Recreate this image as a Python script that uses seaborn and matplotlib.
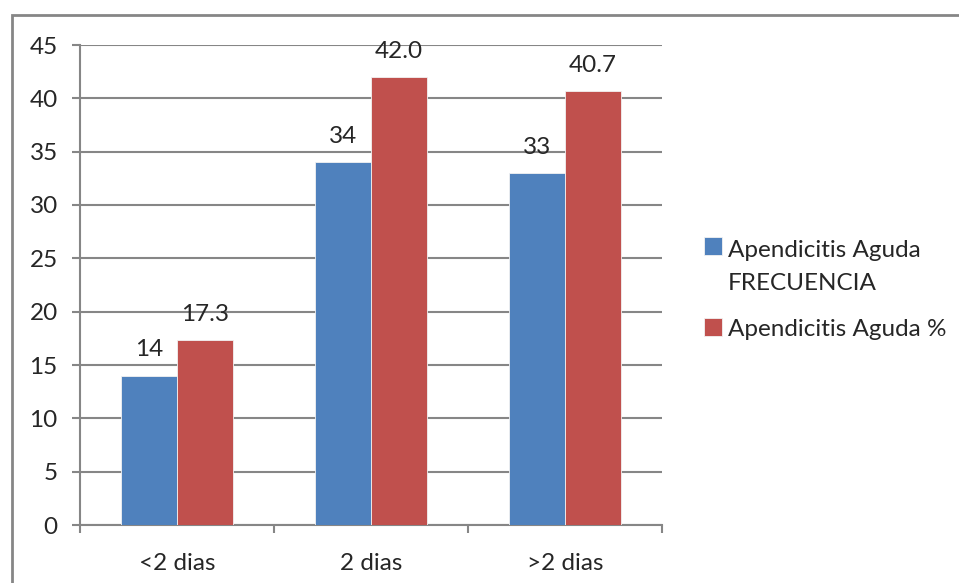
import matplotlib
matplotlib.use("Agg")
import matplotlib.pyplot as plt
from matplotlib.patches import Rectangle
from matplotlib.legend_handler import HandlerPatch
import seaborn as sns
import pandas as pd

categories = ["<2 dias", "2 dias", ">2 dias"]
frecuencia = [14, 34, 33]
porcentaje = [17.3, 42.0, 40.7]
series_names = ["Apendicitis Aguda\nFRECUENCIA", "Apendicitis Aguda %"]
y_ticks = [0, 5, 10, 15, 20, 25, 30, 35, 40, 45]

df = pd.DataFrame({
    "categoria": categories * 2,
    "valor": frecuencia + porcentaje,
    "serie": [series_names[0]] * 3 + [series_names[1]] * 3,
})

sns.set_theme(style="white")
plt.rcParams["font.family"] = ["Lato", "DejaVu Sans"]

FS = 17.5
LINESP = 1.7
grid_c = "#868686"
text_c = "#262626"

fig = plt.figure(figsize=(9.59, 5.83), dpi=100)
ax = fig.add_axes([80 / 959, 58 / 583, 582 / 959, 480 / 583])

sns.barplot(data=df, x="categoria", y="valor", hue="serie",
            palette=["#4F81BD", "#C0504D"], width=0.58, saturation=1,
            edgecolor="#f2f2f2", linewidth=0.6, ax=ax, zorder=3)

ax.set_ylim(0, 45)
ax.set_xlim(-0.5, 2.5)
ax.set_yticks(y_ticks)
ax.tick_params(axis="y", labelsize=FS, colors=text_c, length=6,
               width=1.5, direction="out", color=grid_c, pad=10, left=True)
ax.tick_params(axis="x", labelsize=FS, colors=text_c, length=0, pad=20)
ax.set_xticks([-0.5, 0.5, 1.5, 2.5], minor=True)
ax.tick_params(axis="x", which="minor", length=6, width=1.5, color=grid_c,
               direction="out", bottom=True)
ax.yaxis.grid(True, color=grid_c, linewidth=1.5, zorder=0)
ax.set_axisbelow(True)
for s in ["top", "right"]:
    ax.spines[s].set_visible(False)
for s in ["left", "bottom"]:
    ax.spines[s].set_color(grid_c)
    ax.spines[s].set_linewidth(1.5)
ax.set_xlabel("")
ax.set_ylabel("")

ax.bar_label(ax.containers[0], labels=[f"{v:.0f}" for v in frecuencia],
             padding=11, fontsize=FS, color=text_c)
ax.bar_label(ax.containers[1], labels=[f"{v:.1f}" for v in porcentaje],
             padding=11, fontsize=FS, color=text_c)


def square_on_first_line(legend, orig_handle, xdescent, ydescent,
                         width, height, fontsize):
    # lift the swatch so it sits beside the first line of a two-line label
    n_lines = 2 if "\n" in orig_handle.get_label() else 1
    lift = (n_lines - 1) * fontsize * 0.85
    return Rectangle((-xdescent, -ydescent + lift), width, height)


handles, labels = ax.get_legend_handles_labels()
leg = ax.legend(handles, labels, loc="center left",
                bbox_to_anchor=(1.034, 0.49), frameon=False, fontsize=FS,
                handlelength=0.75, handleheight=0.75, handletextpad=0.25,
                labelspacing=1.0, labelcolor=text_c,
                handler_map={h: HandlerPatch(patch_func=square_on_first_line)
                             for h in handles})
for t in leg.get_texts():
    t.set_linespacing(LINESP)

fig.add_artist(Rectangle((12 / 959, -0.05), 1.0, (583 - 15) / 583 + 0.05,
                         transform=fig.transFigure, fill=False,
                         edgecolor=grid_c, linewidth=2))

fig.savefig("out.png", dpi=100)
